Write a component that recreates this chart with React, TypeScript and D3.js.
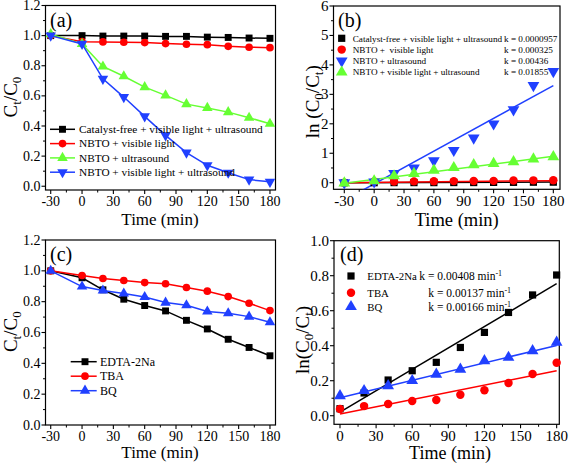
import React from 'react';
import * as d3 from 'd3';

// ---------- DATA ----------
const timeFull = [-30, 0, 20, 40, 60, 80, 100, 120, 140, 160, 180];
const timeD = [0, 20, 40, 60, 80, 100, 120, 140, 160, 180];

// (a) Ct/C0
const aCatalystFree = [1.0, 1.0, 0.997, 0.997, 0.997, 0.995, 0.995, 0.99, 0.988, 0.984, 0.982];
const aNbtoVisible = [1.0, 0.96, 0.958, 0.956, 0.954, 0.947, 0.943, 0.94, 0.929, 0.923, 0.92];
const aNbtoUltra = [1.01, 0.945, 0.795, 0.73, 0.658, 0.603, 0.545, 0.52, 0.492, 0.455, 0.415];
const aNbtoBoth = [1.0, 0.945, 0.713, 0.592, 0.464, 0.338, 0.223, 0.139, 0.09, 0.044, 0.029];
const aLabels = [
  'Catalyst-free + visible light + ultrasound',
  'NBTO + visible light',
  'NBTO + ultrasound',
  'NBTO + visible light + ultrasound',
];

// (b) ln(C0/Ct)
const bCatalystFree = [0, 0, 0.003, 0.003, 0.003, 0.005, 0.005, 0.01, 0.012, 0.016, 0.018];
const bNbtoVisible = [0, 0.04, 0.043, 0.045, 0.047, 0.054, 0.059, 0.062, 0.074, 0.08, 0.083];
const bBlue = [0, 0.03, 0.32, 0.5, 0.75, 1.1, 1.52, 2.0, 2.48, 3.3, 3.78];
const bGreen = [-0.01, 0.06, 0.23, 0.31, 0.42, 0.51, 0.61, 0.65, 0.71, 0.8, 0.88];
const bLabels = [
  'Catalyst-free + visible light + ultrasound',
  'NBTO +  visible light',
  'NBTO + ultrasound',
  'NBTO + visible light + ultrasound',
];
const bKLabels = ['k = 0.0000957', 'k = 0.000325', 'k = 0.00436', 'k = 0.01855'];
// fit lines: slope, intercept
const bFitSlopes = [0.0000957, 0.000325, 0.01855, 0.00436];
const bFitIntercepts = [0.004, 0.012, -0.04, 0.11];

// (c) Ct/C0 with scavengers
const cEdta = [1.0, 0.955, 0.877, 0.816, 0.775, 0.74, 0.679, 0.623, 0.556, 0.503, 0.449];
const cTba = [1.0, 0.97, 0.95, 0.937, 0.924, 0.916, 0.892, 0.868, 0.833, 0.79, 0.742];
const cBq = [1.0, 0.898, 0.872, 0.853, 0.83, 0.794, 0.777, 0.736, 0.725, 0.703, 0.666];
const cLabels = ['EDTA-2Na', 'TBA', 'BQ'];

// (d) ln(C0/Ct)
const dEdta = [0.04, 0.13, 0.204, 0.257, 0.305, 0.39, 0.476, 0.59, 0.69, 0.804];
const dTba = [0.038, 0.055, 0.067, 0.084, 0.09, 0.12, 0.145, 0.187, 0.238, 0.303];
const dBq = [0.114, 0.143, 0.171, 0.2, 0.236, 0.265, 0.314, 0.333, 0.371, 0.419];
const dLabels = ['EDTA-2Na', 'TBA', 'BQ'];
const dKValues = ['k = 0.00408 min', 'k = 0.00137 min', 'k = 0.00166 min'];
const dFitSlopes = [0.00408, 0.00137, 0.00166];
const dFitIntercepts = [0.02, 0.01, 0.103];

// ---------- STYLE ----------
const FONT = "'Liberation Serif', 'Times New Roman', serif";
const BLACK = '#000000';
const RED = '#ff0000';
const GREEN = '#66ff33';
const BLUE = '#2040ff';

type Shape = 'square' | 'circle' | 'up' | 'down';

function markerPath(shape: Shape, size: number) {
  const t =
    shape === 'square' ? d3.symbolSquare : shape === 'circle' ? d3.symbolCircle : d3.symbolTriangle;
  return d3.symbol().type(t).size(size)() as string;
}

function Marker({ shape, x, y, color, size }: { shape: Shape; x: number; y: number; color: string; size: number }) {
  const rot = shape === 'down' ? ' rotate(180)' : '';
  return <path d={markerPath(shape, size)} transform={`translate(${x},${y})${rot}`} fill={color} />;
}

type Box = { l: number; r: number; t: number; b: number };

function Axes({
  box, x, y, xTicks, xMinor, yTicks, yMinor, yFmt, tickFont,
}: {
  box: Box; x: d3.ScaleLinear<number, number>; y: d3.ScaleLinear<number, number>;
  xTicks: number[]; xMinor: number[]; yTicks: number[]; yMinor: number[]; yFmt: (v: number) => string; tickFont: number;
}) {
  return (
    <g>
      <rect x={box.l} y={box.t} width={box.r - box.l} height={box.b - box.t} fill="none" stroke="#000" strokeWidth={1.2} />
      {xTicks.map((v) => (
        <g key={'xt' + v}>
          <line x1={x(v)} x2={x(v)} y1={box.b} y2={box.b + 4} stroke="#000" strokeWidth={1.1} />
          <text x={x(v)} y={box.b + 4 + tickFont * 0.86} textAnchor="middle" fontSize={tickFont} fontFamily={FONT}>
            {v}
          </text>
        </g>
      ))}
      {xMinor.map((v) => (
        <line key={'xm' + v} x1={x(v)} x2={x(v)} y1={box.b} y2={box.b + 2.5} stroke="#000" strokeWidth={1} />
      ))}
      {yTicks.map((v) => (
        <g key={'yt' + v}>
          <line x1={box.l - 4} x2={box.l} y1={y(v)} y2={y(v)} stroke="#000" strokeWidth={1.1} />
          <text x={box.l - 5} y={y(v) + tickFont * 0.33} textAnchor="end" fontSize={tickFont} fontFamily={FONT}>
            {yFmt(v)}
          </text>
        </g>
      ))}
      {yMinor.map((v) => (
        <line key={'ym' + v} x1={box.l - 2.5} x2={box.l} y1={y(v)} y2={y(v)} stroke="#000" strokeWidth={1} />
      ))}
    </g>
  );
}

const rangeTicks = (a: number, b: number, s: number) => d3.range(a, b + s / 2, s).map((v) => +v.toFixed(4));

export default function App() {
  // ---- panel boxes ----
  const boxA: Box = { l: 45.5, r: 275.5, t: 5.5, b: 190 };
  const boxB: Box = { l: 333.5, r: 560, t: 6, b: 189.3 };
  const boxC: Box = { l: 45.5, r: 275.5, t: 240, b: 425 };
  const boxD: Box = { l: 334, r: 559.3, t: 240.7, b: 424.3 };

  const xA = d3.scaleLinear().domain([-35, 185.3]).range([boxA.l, boxA.r]);
  const yA = d3.scaleLinear().domain([-0.025, 1.2]).range([boxA.b, boxA.t]);
  const xB = d3.scaleLinear().domain([-40.85, 186.7]).range([boxB.l, boxB.r]);
  const yB = d3.scaleLinear().domain([-0.224, 6]).range([boxB.b, boxB.t]);
  const xC = d3.scaleLinear().domain([-35, 185.3]).range([boxC.l, boxC.r]);
  const yC = d3.scaleLinear().domain([0, 1.2]).range([boxC.b, boxC.t]);
  const xD = d3.scaleLinear().domain([-4.98, 182.2]).range([boxD.l, boxD.r]);
  const yD = d3.scaleLinear().domain([-0.049, 1.0]).range([boxD.b, boxD.t]);

  const xTicksFull = rangeTicks(-30, 180, 30);
  const xMinorFull = rangeTicks(-15, 165, 30);
  const xTicksD = rangeTicks(0, 180, 30);
  const xMinorD = rangeTicks(15, 165, 30);
  const yTicks12 = rangeTicks(0, 1.2, 0.2);
  const yMinor12 = rangeTicks(0.1, 1.1, 0.2);
  const yTicksB = rangeTicks(0, 6, 1);
  const yMinorB = rangeTicks(0.5, 5.5, 1);
  const yTicksD = rangeTicks(0, 1.0, 0.2);
  const yMinorD = rangeTicks(0.1, 0.9, 0.2);
  const f1 = d3.format('.1f');
  const f0 = d3.format('d');

  const seriesA = [
    { v: aCatalystFree, c: BLACK, s: 'square' as Shape },
    { v: aNbtoVisible, c: RED, s: 'circle' as Shape },
    { v: aNbtoUltra, c: GREEN, s: 'up' as Shape },
    { v: aNbtoBoth, c: BLUE, s: 'down' as Shape },
  ];
  const seriesB = [
    { v: bCatalystFree, c: BLACK, s: 'square' as Shape },
    { v: bNbtoVisible, c: RED, s: 'circle' as Shape },
    { v: bBlue, c: BLUE, s: 'down' as Shape },
    { v: bGreen, c: GREEN, s: 'up' as Shape },
  ];
  const seriesC = [
    { v: cEdta, c: BLACK, s: 'square' as Shape },
    { v: cTba, c: RED, s: 'circle' as Shape },
    { v: cBq, c: BLUE, s: 'up' as Shape },
  ];
  const seriesD = [
    { v: dEdta, c: BLACK, s: 'square' as Shape },
    { v: dTba, c: RED, s: 'circle' as Shape },
    { v: dBq, c: BLUE, s: 'up' as Shape },
  ];

  const lineA = d3.line<number>().x((_, i) => xA(timeFull[i])).y((d) => yA(d));
  const lineC = d3.line<number>().x((_, i) => xC(timeFull[i])).y((d) => yC(d));

  const msz = { square: 48, circle: 46, up: 48, down: 48 } as Record<Shape, number>;
  const mszB = { square: 52, circle: 56, up: 60, down: 60 } as Record<Shape, number>;

  const tickL = 14;
  const tickR = 15;

  return (
    <div style={{ position: 'absolute', left: 0, top: 0 }}>
      <svg width={569} height={466} style={{ display: 'block', background: '#fff' }} fontFamily={FONT}>
        <defs>
          <clipPath id="clipB">
            <rect x={boxB.l} y={boxB.t} width={boxB.r - boxB.l} height={boxB.b - boxB.t} />
          </clipPath>
          <clipPath id="clipD">
            <rect x={boxD.l} y={boxD.t} width={boxD.r - boxD.l} height={boxD.b - boxD.t} />
          </clipPath>
        </defs>

        {/* ===== Panel (a) ===== */}
        <Axes box={boxA} x={xA} y={yA} xTicks={xTicksFull} xMinor={xMinorFull} yTicks={yTicks12} yMinor={yMinor12} yFmt={f1} tickFont={tickL} />
        {seriesA.map((s, k) => (
          <g key={'a' + k}>
            <path d={lineA(s.v) as string} fill="none" stroke={s.c} strokeWidth={1.5} />
            {s.v.map((v, i) => (
              <Marker key={i} shape={s.s} x={xA(timeFull[i])} y={yA(v)} color={s.c} size={msz[s.s]} />
            ))}
          </g>
        ))}
        {aLabels.map((t, k) => {
          const yy = 129.3 + k * 14.3;
          return (
            <g key={'al' + k}>
              <line x1={50} x2={75} y1={yy} y2={yy} stroke={seriesA[k].c} strokeWidth={1.5} />
              <Marker shape={seriesA[k].s} x={62.5} y={yy} color={seriesA[k].c} size={msz[seriesA[k].s]} />
              <text x={79} y={yy + 3.8} fontSize={11.3}>{t}</text>
            </g>
          );
        })}
        <text x={50} y={27} fontSize={20}>(a)</text>
        <text transform="translate(17,97) rotate(-90)" textAnchor="middle" fontSize={19}>
          C<tspan fontSize={13} dy={4}>t</tspan>
          <tspan dy={-4}>/C</tspan>
          <tspan fontSize={13} dy={4}>0</tspan>
        </text>
        <text x={160} y={225} textAnchor="middle" fontSize={17}>Time (min)</text>

        {/* ===== Panel (b) ===== */}
        <Axes box={boxB} x={xB} y={yB} xTicks={xTicksFull} xMinor={xMinorFull} yTicks={yTicksB} yMinor={yMinorB} yFmt={f0} tickFont={tickR} />
        <g clipPath="url(#clipB)">
          {seriesB.map((s, k) => (
            <line
              key={'bf' + k}
              x1={xB(-30)}
              x2={xB(180)}
              y1={yB(bFitSlopes[k] * -30 + bFitIntercepts[k])}
              y2={yB(bFitSlopes[k] * 180 + bFitIntercepts[k])}
              stroke={s.c}
              strokeWidth={1.5}
            />
          ))}
        </g>
        {seriesB.map((s, k) => (
          <g key={'b' + k}>
            {s.v.map((v, i) => (
              <Marker key={i} shape={s.s} x={xB(timeFull[i])} y={yB(v)} color={s.c} size={mszB[s.s]} />
            ))}
          </g>
        ))}
        {bLabels.map((t, k) => {
          const yy = 38.3 + k * 11.3;
          const s = seriesB[k];
          return (
            <g key={'bl' + k}>
              <Marker shape={s.s} x={341.7} y={yy} color={s.c} size={mszB[s.s]} />
              <text x={352.7} y={yy + 3.2} fontSize={9.2} style={{ whiteSpace: 'pre' }}>{t}</text>
              <text x={504} y={yy + 3.2} fontSize={9.2}>{bKLabels[k]}</text>
            </g>
          );
        })}
        <text x={338} y={27} fontSize={20}>(b)</text>
        <text transform="translate(319,101.7) rotate(-90)" textAnchor="middle" fontSize={19}>
          ln (C<tspan fontSize={13} dy={4}>0</tspan>
          <tspan dy={-4}>/C</tspan>
          <tspan fontSize={13} dy={4}>t</tspan>
          <tspan dy={-4}>)</tspan>
        </text>
        <text x={456.7} y={225.5} textAnchor="middle" fontSize={18.5}>Time (min)</text>

        {/* ===== Panel (c) ===== */}
        <Axes box={boxC} x={xC} y={yC} xTicks={xTicksFull} xMinor={xMinorFull} yTicks={yTicks12} yMinor={yMinor12} yFmt={f1} tickFont={tickL} />
        {seriesC.map((s, k) => (
          <g key={'c' + k}>
            <path d={lineC(s.v) as string} fill="none" stroke={s.c} strokeWidth={1.5} />
            {s.v.map((v, i) => (
              <Marker key={i} shape={s.s} x={xC(timeFull[i])} y={yC(v)} color={s.c} size={msz[s.s]} />
            ))}
          </g>
        ))}
        {cLabels.map((t, k) => {
          const yy = 361.7 + k * 14.5;
          return (
            <g key={'cl' + k}>
              <line x1={70.7} x2={96.7} y1={yy} y2={yy} stroke={seriesC[k].c} strokeWidth={1.5} />
              <Marker shape={seriesC[k].s} x={85} y={yy} color={seriesC[k].c} size={msz[seriesC[k].s]} />
              <text x={100} y={yy + 4} fontSize={12}>{t}</text>
            </g>
          );
        })}
        <text x={50} y={261} fontSize={20}>(c)</text>
        <text transform="translate(17,331.7) rotate(-90)" textAnchor="middle" fontSize={19}>
          C<tspan fontSize={13} dy={4}>t</tspan>
          <tspan dy={-4}>/C</tspan>
          <tspan fontSize={13} dy={4}>0</tspan>
        </text>
        <text x={160} y={458} textAnchor="middle" fontSize={17}>Time (min)</text>

        {/* ===== Panel (d) ===== */}
        <Axes box={boxD} x={xD} y={yD} xTicks={xTicksD} xMinor={xMinorD} yTicks={yTicksD} yMinor={yMinorD} yFmt={f1} tickFont={tickR} />
        <g clipPath="url(#clipD)">
          {seriesD.map((s, k) => (
            <line
              key={'df' + k}
              x1={xD(0)}
              x2={xD(180)}
              y1={yD(dFitIntercepts[k])}
              y2={yD(dFitSlopes[k] * 180 + dFitIntercepts[k])}
              stroke={s.c}
              strokeWidth={1.5}
            />
          ))}
        </g>
        {seriesD.map((s, k) => (
          <g key={'d' + k}>
            {s.v.map((v, i) => (
              <Marker key={i} shape={s.s} x={xD(timeD[i])} y={yD(v)} color={s.c} size={mszB[s.s]} />
            ))}
          </g>
        ))}
        {dLabels.map((t, k) => {
          const yy = [276, 292.7, 306.7][k];
          const kx = [419.3, 428.3, 428.3][k];
          return (
            <g key={'dl' + k}>
              <Marker shape={seriesD[k].s} x={351} y={yy} color={seriesD[k].c} size={mszB[seriesD[k].s]} />
              <text x={367.3} y={yy + 3.8} fontSize={10.8}>{t}</text>
              <text x={kx} y={yy + 3.8} fontSize={11.5}>
                {dKValues[k]}
                <tspan fontSize={8} dy={-4}>-1</tspan>
              </text>
            </g>
          );
        })}
        <text x={340} y={261} fontSize={20}>(d)</text>
        <text transform="translate(309,340) rotate(-90)" textAnchor="middle" fontSize={19}>
          ln(C<tspan fontSize={13} dy={4}>0</tspan>
          <tspan dy={-4}>/C</tspan>
          <tspan fontSize={13} dy={4}>t</tspan>
          <tspan dy={-4}>)</tspan>
        </text>
        <text x={450} y={458.5} textAnchor="middle" fontSize={18}>Time (min)</text>
      </svg>
    </div>
  );
}
